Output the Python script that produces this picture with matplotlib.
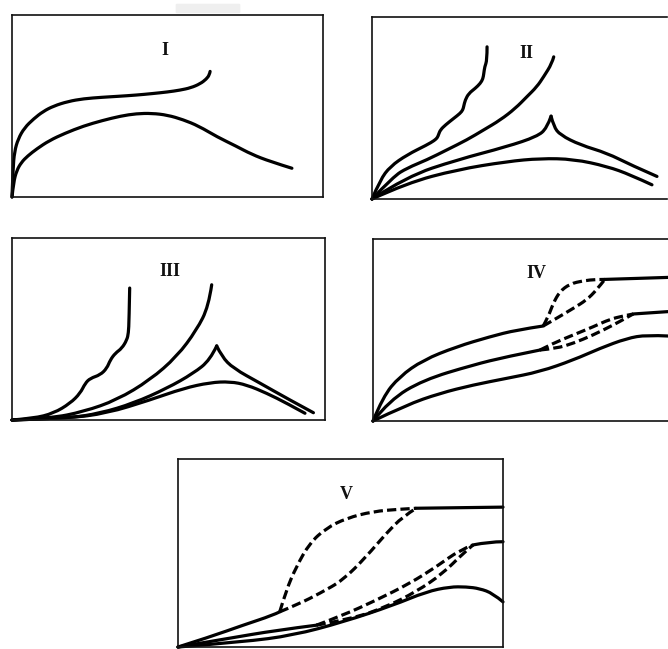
import matplotlib
matplotlib.use("Agg")
import matplotlib.pyplot as plt
import numpy as np
from matplotlib.patches import FancyBboxPatch, PathPatch
from matplotlib.path import Path

# ---------------- data (fractions of each panel) ----------------
# Panel I
I_up_x = [0, 0.003, 0.008, 0.02, 0.04, 0.07, 0.10, 0.134, 0.18, 0.23, 0.29, 0.34, 0.40, 0.45, 0.50, 0.54, 0.575, 0.605, 0.625, 0.635, 0.637]
I_up_y = [0, 0.15, 0.25, 0.32, 0.38, 0.43, 0.47, 0.50, 0.525, 0.54, 0.548, 0.553, 0.56, 0.568, 0.577, 0.587, 0.60, 0.622, 0.648, 0.672, 0.69]
I_lo_x = [0, 0.005, 0.015, 0.03, 0.05, 0.08, 0.12, 0.17, 0.23, 0.29, 0.35, 0.40, 0.45, 0.50, 0.55, 0.60, 0.66, 0.72, 0.77, 0.83, 0.90]
I_lo_y = [0, 0.08, 0.145, 0.19, 0.225, 0.265, 0.31, 0.35, 0.39, 0.42, 0.445, 0.458, 0.46, 0.45, 0.425, 0.39, 0.33, 0.28, 0.235, 0.195, 0.158]

# Panel II
II_a_x = [0, 0.028, 0.062, 0.119, 0.186, 0.212, 0.222, 0.226, 0.232, 0.249, 0.277, 0.299, 0.308, 0.311, 0.316, 0.328, 0.35, 0.367, 0.376, 0.379, 0.382, 0.39, 0.39]
II_a_y = [0, 0.106, 0.179, 0.243, 0.297, 0.322, 0.338, 0.356, 0.38, 0.407, 0.443, 0.471, 0.49, 0.51, 0.544, 0.58, 0.608, 0.635, 0.66, 0.69, 0.726, 0.763, 0.836]
II_b_x = [0, 0.073, 0.119, 0.186, 0.254, 0.322, 0.379, 0.435, 0.486, 0.525, 0.559, 0.582, 0.61, 0.616]
II_b_y = [0, 0.124, 0.17, 0.215, 0.27, 0.325, 0.38, 0.434, 0.498, 0.562, 0.617, 0.672, 0.745, 0.781]
II_c_x = [0, 0.119, 0.288, 0.458, 0.559, 0.593, 0.607, 0.616, 0.638, 0.706, 0.797, 0.876, 0.966]
II_c_y = [0, 0.124, 0.215, 0.288, 0.343, 0.389, 0.455, 0.398, 0.352, 0.297, 0.252, 0.188, 0.124]
II_d_x = [0, 0.119, 0.288, 0.458, 0.571, 0.684, 0.797, 0.876, 0.949]
II_d_y = [0, 0.088, 0.161, 0.206, 0.223, 0.219, 0.179, 0.133, 0.078]

# Panel III
III_a_x = [0, 0.069, 0.133, 0.186, 0.218, 0.234, 0.25, 0.282, 0.303, 0.314, 0.33, 0.351, 0.367, 0.372, 0.374, 0.376]
III_a_y = [0, 0.009, 0.037, 0.092, 0.147, 0.202, 0.229, 0.248, 0.284, 0.33, 0.367, 0.394, 0.44, 0.477, 0.55, 0.725]
III_b_x = [0, 0.122, 0.229, 0.335, 0.441, 0.527, 0.59, 0.628, 0.638]
III_b_y = [0, 0.009, 0.046, 0.11, 0.22, 0.349, 0.495, 0.624, 0.743]
III_c_x = [0, 0.176, 0.282, 0.388, 0.495, 0.58, 0.633, 0.654, 0.67, 0.707, 0.793, 0.878, 0.963]
III_c_y = [0, 0.009, 0.037, 0.092, 0.174, 0.257, 0.33, 0.407, 0.349, 0.284, 0.202, 0.119, 0.04]
III_d_x = [0, 0.176, 0.303, 0.441, 0.548, 0.633, 0.697, 0.75, 0.814, 0.878, 0.936]
III_d_y = [0, 0.009, 0.037, 0.11, 0.174, 0.206, 0.211, 0.193, 0.147, 0.092, 0.037]

# Panel IV  (solid parts and dashed hysteresis loops)
IV_top_x = [0, 0.034, 0.09, 0.17, 0.283, 0.396, 0.486, 0.577]
IV_top_y = [0, 0.134, 0.244, 0.335, 0.408, 0.463, 0.5, 0.522]
IV_top_loopL_x = [0.577, 0.594, 0.611, 0.633, 0.667, 0.713, 0.758, 0.786]
IV_top_loopL_y = [0.522, 0.573, 0.647, 0.711, 0.753, 0.771, 0.778, 0.778]
IV_top_loopR_x = [0.577, 0.622, 0.679, 0.724, 0.758, 0.786]
IV_top_loopR_y = [0.522, 0.564, 0.619, 0.665, 0.72, 0.778]
IV_top_tail_x = [0.786, 0.905, 1.0]
IV_top_tail_y = [0.778, 0.784, 0.789]
IV_mid_x = [0, 0.057, 0.17, 0.339, 0.452, 0.566]
IV_mid_y = [0, 0.115, 0.225, 0.308, 0.353, 0.39]
IV_mid_loopU_x = [0.566, 0.611, 0.679, 0.747, 0.803, 0.848, 0.882]
IV_mid_loopU_y = [0.39, 0.427, 0.473, 0.518, 0.559, 0.577, 0.588]
IV_mid_loopL_x = [0.566, 0.622, 0.679, 0.747, 0.814, 0.86, 0.882]
IV_mid_loopL_y = [0.39, 0.399, 0.427, 0.473, 0.527, 0.568, 0.588]
IV_mid_tail_x = [0.882, 1.0]
IV_mid_tail_y = [0.588, 0.601]
IV_bot_x = [0, 0.113, 0.226, 0.339, 0.452, 0.566, 0.679, 0.769, 0.86, 0.928, 1.0]
IV_bot_y = [0, 0.088, 0.152, 0.198, 0.234, 0.271, 0.335, 0.399, 0.454, 0.473, 0.467]

# Panel V
V_top_x = [0, 0.097, 0.2, 0.292, 0.313]
V_top_y = [0, 0.053, 0.116, 0.169, 0.187]
V_top_loopL_x = [0.313, 0.333, 0.364, 0.405, 0.456, 0.518, 0.6, 0.682, 0.733]
V_top_loopL_y = [0.187, 0.302, 0.427, 0.552, 0.632, 0.685, 0.721, 0.733, 0.738]
V_top_loopR_x = [0.313, 0.374, 0.436, 0.508, 0.579, 0.641, 0.692, 0.733]
V_top_loopR_y = [0.187, 0.231, 0.285, 0.356, 0.48, 0.605, 0.694, 0.738]
V_top_tail_x = [0.733, 1.0]
V_top_tail_y = [0.738, 0.744]
V_mid_x = [0, 0.149, 0.303, 0.426]
V_mid_y = [0, 0.044, 0.089, 0.116]
V_mid_loopU_x = [0.426, 0.508, 0.61, 0.713, 0.795, 0.867, 0.908]
V_mid_loopU_y = [0.116, 0.169, 0.249, 0.338, 0.427, 0.516, 0.543]
V_mid_loopL_x = [0.426, 0.538, 0.641, 0.733, 0.815, 0.877, 0.908]
V_mid_loopL_y = [0.116, 0.151, 0.214, 0.294, 0.391, 0.498, 0.543]
V_mid_tail_x = [0.908, 0.959, 1.0]
V_mid_tail_y = [0.543, 0.56, 0.56]
V_bot_x = [0, 0.2, 0.354, 0.508, 0.662, 0.764, 0.836, 0.887, 0.928, 0.969, 1.0]
V_bot_y = [0, 0.027, 0.062, 0.133, 0.222, 0.294, 0.32, 0.32, 0.311, 0.285, 0.24]

labels = ["I", "II", "III", "IV", "V"]

# ---------------- drawing ----------------
W, H = 668, 649
fig = plt.figure(figsize=(W / 100, H / 100), dpi=100)
fig.patch.set_facecolor("white")

# faint scan smudge at top
fig.patches.append(FancyBboxPatch((177 / W, 1 - 12 / H), 62 / W, 7 / H,
                                  boxstyle="round,pad=0.002", transform=fig.transFigure,
                                  facecolor="#efefef", edgecolor="none", zorder=0))

def make_ax(x0, y0, x1, y1, hide_right=False):
    ax = fig.add_axes([x0 / W, 1 - y1 / H, (x1 - x0) / W, (y1 - y0) / H])
    ax.set_xlim(0, 1)
    ax.set_ylim(0, 1)
    ax.set_xticks([])
    ax.set_yticks([])
    for s in ax.spines.values():
        s.set_linewidth(1.2)
        s.set_color("#111111")
    if hide_right:
        ax.spines["right"].set_visible(False)
    return ax

LW = 2.3
DASH = (0, (2.9, 1.3))

def smooth_path(x, y):
    """Quadratic-Bezier path using the read points as control points."""
    pts = np.column_stack([x, y]).astype(float)
    n = len(pts)
    if n <= 2:
        return Path(pts)
    verts = [pts[0]]
    codes = [Path.MOVETO]
    for i in range(1, n - 2):
        verts += [pts[i], (pts[i] + pts[i + 1]) / 2]
        codes += [Path.CURVE3, Path.CURVE3]
    verts += [pts[n - 2], pts[n - 1]]
    codes += [Path.CURVE3, Path.CURVE3]
    return Path(verts, codes)

def draw(ax, x, y, ls="-"):
    patch = PathPatch(smooth_path(x, y), fill=False, edgecolor="black", lw=LW,
                      linestyle=DASH if ls == "--" else "-", capstyle="round" if ls == "-" else "butt",
                      joinstyle="round", clip_on=False)
    ax.add_patch(patch)

def draw_cusp(ax, x, y):
    k = int(np.argmax(y))
    draw(ax, x[:k + 1], y[:k + 1])
    draw(ax, x[k:], y[k:])

def label(ax, text, x, y):
    ax.text(x, y, text, ha="center", va="center", fontsize=13, fontweight="bold",
            family="Liberation Serif", color="#111111")

ax1 = make_ax(12, 15, 323, 197)
draw(ax1, I_up_x, I_up_y)
draw(ax1, I_lo_x, I_lo_y)
label(ax1, labels[0], 0.492, 0.807)

ax2 = make_ax(372, 17, 667, 199, hide_right=True)
draw(ax2, II_a_x, II_a_y)
draw(ax2, II_b_x, II_b_y)
draw_cusp(ax2, II_c_x, II_c_y)
draw(ax2, II_d_x, II_d_y)
label(ax2, labels[1], 0.525, 0.80)

ax3 = make_ax(12, 238, 325, 420)
draw(ax3, III_a_x, III_a_y)
draw(ax3, III_b_x, III_b_y)
draw_cusp(ax3, III_c_x, III_c_y)
draw(ax3, III_d_x, III_d_y)
label(ax3, labels[2], 0.505, 0.817)

ax4 = make_ax(373, 239, 668, 421, hide_right=True)
draw(ax4, IV_top_x, IV_top_y)
draw(ax4, IV_top_loopL_x, IV_top_loopL_y, "--")
draw(ax4, IV_top_loopR_x, IV_top_loopR_y, "--")
draw(ax4, IV_top_tail_x, IV_top_tail_y)
draw(ax4, IV_mid_x, IV_mid_y)
draw(ax4, IV_mid_loopU_x, IV_mid_loopU_y, "--")
draw(ax4, IV_mid_loopL_x, IV_mid_loopL_y, "--")
draw(ax4, IV_mid_tail_x, IV_mid_tail_y)
draw(ax4, IV_bot_x, IV_bot_y)
label(ax4, labels[3], 0.554, 0.811)

ax5 = make_ax(178, 459, 503, 647)
draw(ax5, V_top_x, V_top_y)
draw(ax5, V_top_loopL_x, V_top_loopL_y, "--")
draw(ax5, V_top_loopR_x, V_top_loopR_y, "--")
draw(ax5, V_top_tail_x, V_top_tail_y)
draw(ax5, V_mid_x, V_mid_y)
draw(ax5, V_mid_loopU_x, V_mid_loopU_y, "--")
draw(ax5, V_mid_loopL_x, V_mid_loopL_y, "--")
draw(ax5, V_mid_tail_x, V_mid_tail_y)
draw(ax5, V_bot_x, V_bot_y)
label(ax5, labels[4], 0.518, 0.81)

fig.savefig("out.png", dpi=100, facecolor="white")
